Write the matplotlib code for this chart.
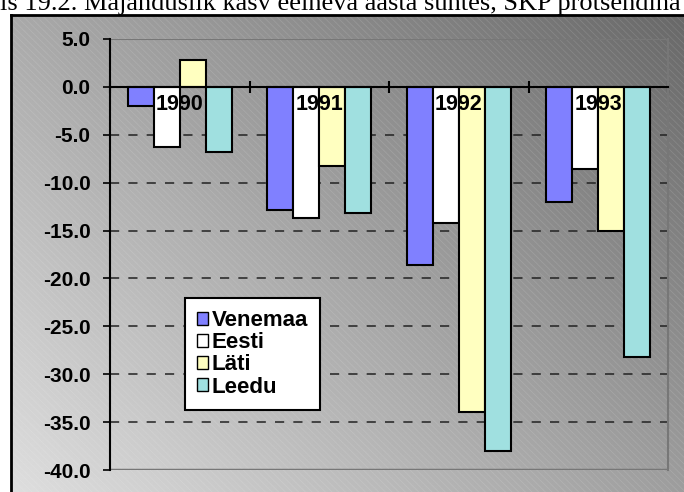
import numpy as np
import matplotlib
matplotlib.use("Agg")
import matplotlib.pyplot as plt
from matplotlib.patches import Rectangle

years = ["1990", "1991", "1992", "1993"]
countries = ["Venemaa", "Eesti", "Läti", "Leedu"]
venemaa = [-2.0, -12.9, -18.6, -12.0]
eesti = [-6.3, -13.7, -14.2, -8.6]
lati = [2.8, -8.3, -33.9, -15.0]
leedu = [-6.8, -13.2, -38.0, -28.2]
yticks = [5, 0, -5, -10, -15, -20, -25, -30, -35, -40]

series = [venemaa, eesti, lati, leedu]
colors = ["#8080ff", "#ffffff", "#ffffc0", "#a0e0e0"]

W, H = 684, 492
fig = plt.figure(figsize=(W / 100, H / 100), dpi=100)
fig.patch.set_facecolor("white")

# chart frame with gradient background
bx0, by_top = 11, 15
bg = fig.add_axes([bx0 / W, 0, 1 - bx0 / W, (H - by_top) / H])
xx, yy = np.meshgrid(np.linspace(0, 1, 300), np.linspace(0, 1, 300))
t = (xx * 0.55 + yy * 0.45)
grad = 0.87 - 0.46 * t
bg.imshow(grad, cmap="gray", vmin=0, vmax=1, origin="lower",
          extent=[0, 1, 0, 1], aspect="auto", interpolation="bilinear")
plt.rcParams["hatch.linewidth"] = 0.6
bg.add_patch(Rectangle((0, 0), 1, 1, fill=False, hatch="\\\\\\\\\\",
                       edgecolor=(1, 1, 1, 0.12), lw=0))
bg.set_xlim(0, 1)
bg.set_ylim(0, 1)
bg.set_xticks([])
bg.set_yticks([])
for s in ["right", "bottom"]:
    bg.spines[s].set_visible(False)
for s in ["left", "top"]:
    bg.spines[s].set_linewidth(2)
    bg.spines[s].set_color("black")

# title, cut at the top of the picture like in the scan
fig.text(0.0, 1 - 10 / H, "is 19.2. Majanduslik kasv eelneva aasta suhtes, SKP protsendina",
         family="Liberation Serif", fontsize=19, va="baseline", ha="left")

# plot area
px0, px1, py0, py1 = 110, 668, 39, 470
ax = fig.add_axes([px0 / W, (H - py1) / H, (px1 - px0) / W, (py1 - py0) / H])
ax.patch.set_alpha(0)

n = len(series)
bw = 0.186
x = np.arange(len(years)) + 0.5
for i, (vals, c, name) in enumerate(zip(series, colors, countries)):
    ax.bar(x + (i - (n - 1) / 2) * bw, vals, width=bw, color=c,
           edgecolor="black", linewidth=1.5, label=name, zorder=3)

ax.set_xlim(0, len(years))
ax.set_ylim(-40, 5)
ax.set_yticks(yticks)
ax.set_yticklabels([f"{v:.1f}" for v in yticks], fontsize=15,
                   fontweight="bold", family="Liberation Sans")
ax.tick_params(axis="y", direction="out", length=5, width=1.2, pad=9)

for v in yticks:
    if v not in (5, 0, -40):
        ax.axhline(v, color="#222222", lw=1.1, ls=(0, (6, 6)), zorder=1)
ax.axhline(-40, color="#777777", lw=2.5, zorder=2)
ax.axhline(5, color="#777777", lw=1.5, zorder=2)

ax.spines["bottom"].set_position(("data", 0))
ax.spines["bottom"].set_linewidth(1.5)
ax.spines["bottom"].set_zorder(4)
ax.spines["left"].set_linewidth(1.5)
ax.spines["top"].set_visible(False)
ax.spines["right"].set_color("#777777")
ax.spines["right"].set_linewidth(1.5)
ax.set_xticks(np.arange(len(years) + 1))
ax.set_xticklabels([])
ax.tick_params(axis="x", direction="inout", length=9, width=1.5)

for xi, yr in zip(x, years):
    ax.text(xi, -1.85, yr, ha="center", va="center", fontsize=15.5,
            fontweight="bold", family="Liberation Sans", zorder=5)

leg = ax.legend(loc="upper left", bbox_to_anchor=(0.134, 0.399), borderaxespad=0,
                prop={"family": "Liberation Sans", "weight": "bold", "size": 16},
                frameon=True, fancybox=False, handlelength=0.5, handleheight=0.5,
                handletextpad=0.15, labelspacing=0.05, borderpad=0.55)
leg.get_frame().set_edgecolor("black")
leg.get_frame().set_linewidth(1.5)
leg.get_frame().set_alpha(1)
leg.set_zorder(6)
for h in leg.legend_handles:
    h.set_linewidth(1.0)

fig.savefig("out.png", dpi=100)
